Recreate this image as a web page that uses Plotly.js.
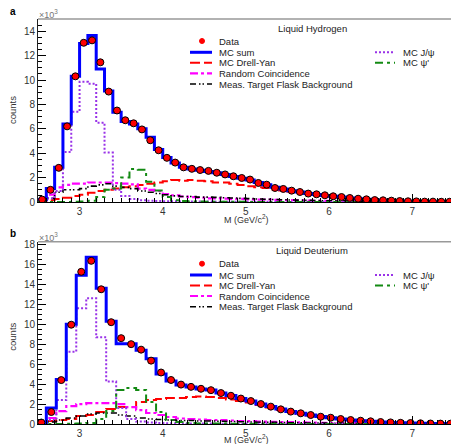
<!DOCTYPE html>
<html><head><meta charset="utf-8">
<script src="https://cdn.plot.ly/plotly-3.0.1.min.js"></script>
<style>html,body{margin:0;padding:0;background:#fff;overflow:hidden}#chart{width:451px;height:444px}</style>
</head><body><div id="chart"></div>
<script>
// ---------- Panel a : Liquid Hydrogen (counts in units of 10^3) ----------
const massA = [2.55,2.65,2.75,2.85,2.95,3.05,3.15,3.25,3.35,3.45,3.55,3.65,3.75,3.85,3.95,4.05,4.15,4.25,4.35,4.45,
  4.55,4.65,4.75,4.85,4.95,5.05,5.15,5.25,5.35,5.45,5.55,5.65,5.75,5.85,5.95,6.05,6.15,6.25,6.35,6.45,
  6.55,6.65,6.75,6.85,6.95,7.05,7.15,7.25,7.35,7.45];
const dataA = [0.2,1.0,2.8,6.2,10.3,13.05,13.25,11.45,9.05,7.5,6.7,6.45,5.95,5.06,4.24,3.62,3.23,2.84,2.72,2.62,
  2.55,2.4,2.26,2.11,1.97,1.84,1.56,1.42,1.15,1.07,0.93,0.82,0.69,0.63,0.55,0.47,0.41,0.33,0.27,0.22,
  0.16,0.14,0.11,0.08,0.06,0.05,0.03,0.03,0.02,0.02];
const mcSumA = [0.2,1.1,2.85,6.4,10.3,13.0,13.65,10.9,9.1,7.35,6.6,6.4,6.0,5.3,4.3,3.65,3.2,2.85,2.7,2.6,
  2.5,2.4,2.25,2.1,1.95,1.8,1.6,1.42,1.2,1.07,0.93,0.82,0.7,0.62,0.54,0.47,0.4,0.33,0.27,0.22,
  0.17,0.14,0.11,0.08,0.06,0.05,0.04,0.03,0.02,0.02];
const dyA = [0.05,0.15,0.25,0.35,0.5,0.6,0.75,0.9,1.0,1.1,1.2,1.3,1.4,1.5,1.6,1.7,1.8,1.75,1.8,1.75,
  1.7,1.6,1.6,1.5,1.4,1.3,1.2,1.15,1.0,0.95,0.85,0.75,0.65,0.58,0.5,0.44,0.38,0.31,0.26,0.2,
  0.15,0.13,0.1,0.08,0.05,0.05,0.03,0.03,0.02,0.02];
const rcA = [0.1,0.6,1.2,1.4,1.5,1.5,1.6,1.6,1.6,1.55,1.5,1.45,1.1,1.0,0.9,0.65,0.55,0.45,0.4,0.35,
  0.3,0.3,0.28,0.25,0.25,0.22,0.2,0.2,0.18,0.15,0.15,0.13,0.12,0.1,0.1,0.08,0.08,0.07,0.06,0.05,
  0.05,0.04,0.04,0.03,0.03,0.02,0.02,0.02,0.01,0.01];
const flaskA = [0.05,0.3,0.8,1.0,1.0,1.1,1.3,1.4,1.5,1.3,1.2,1.1,0.9,0.8,0.7,0.6,0.5,0.45,0.45,0.4,
  0.4,0.38,0.35,0.33,0.3,0.28,0.25,0.22,0.2,0.18,0.16,0.15,0.13,0.12,0.1,0.1,0.09,0.08,0.07,0.06,
  0.05,0.05,0.04,0.04,0.03,0.03,0.02,0.02,0.02,0.01];
const jpsiA = [0.05,0.3,0.9,4.1,7.4,9.85,9.7,6.5,4.05,1.0,0.5,0.25,0.15,0.1,0.08,0.07,0.06,0.05,0.05,0.04,
  0.04,0.03,0.03,0.03,0.02,0.02,0.02,0.02,0.01,0.01,0.01,0.01,0.01,0.01,0.01,0.01,0.01,0.01,0.01,0.01,
  0.01,0.01,0.01,0.01,0.01,0.01,0.01,0.01,0.01,0.01];
const psipA = [0,0,0,0,0.02,0.05,0.1,0.4,1.0,1.1,2.0,2.7,2.65,1.65,0.95,0.4,0.15,0.08,0.05,0.04,
  0.03,0.03,0.02,0.02,0.02,0.01,0.01,0.01,0.01,0.01,0.01,0.01,0.01,0.01,0.01,0.01,0.01,0.01,0.01,0.01,
  0.01,0.01,0.01,0.01,0.01,0.01,0.01,0.01,0.01,0.01];

// ---------- Panel b : Liquid Deuterium ----------
const massB = [2.54,2.66,2.78,2.90,3.02,3.14,3.26,3.38,3.50,3.62,3.74,3.86,3.98,4.10,4.22,4.34,4.46,4.58,4.70,4.82,
  4.94,5.06,5.18,5.30,5.42,5.54,5.66,5.78,5.90,6.02,6.14,6.26,6.38,6.50,6.62,6.74,6.86,6.98,7.10,7.22,7.34,7.46];
const dataB = [0.15,1.2,4.4,9.95,15.25,16.35,13.5,10.2,8.6,8.0,7.45,6.35,5.16,4.41,3.95,3.72,3.53,3.39,3.1,2.83,
  2.55,2.3,2.0,1.74,1.47,1.24,1.07,0.9,0.73,0.63,0.5,0.4,0.33,0.27,0.2,0.16,0.12,0.1,0.07,0.05,0.04,0.03];
const mcSumB = [0.1,1.6,4.45,10.0,14.9,16.7,13.6,10.3,8.05,8.05,7.4,6.55,5.0,4.3,3.9,3.7,3.5,3.4,3.1,2.85,
  2.55,2.3,2.0,1.75,1.5,1.25,1.07,0.9,0.74,0.62,0.5,0.41,0.33,0.27,0.21,0.16,0.12,0.1,0.07,0.05,0.04,0.03];
const dyB = [0.05,0.3,0.4,0.5,0.8,0.9,1.2,1.5,1.7,1.7,2.2,2.4,2.5,2.6,2.6,2.7,2.75,2.7,2.6,2.45,
  2.3,2.15,1.9,1.65,1.4,1.2,1.0,0.85,0.7,0.6,0.47,0.38,0.32,0.26,0.2,0.16,0.12,0.1,0.08,0.06,0.04,0.03];
const rcB = [0.1,0.6,1.3,1.8,2.0,2.1,2.1,2.1,2.0,1.7,1.4,1.1,0.9,0.7,0.55,0.5,0.45,0.4,0.4,0.35,
  0.3,0.28,0.25,0.22,0.2,0.18,0.16,0.14,0.12,0.1,0.09,0.08,0.07,0.06,0.05,0.04,0.04,0.03,0.03,0.02,0.02,0.01];
const flaskB = [0.05,0.2,0.4,0.6,0.8,1.0,1.1,1.1,0.9,0.8,0.6,0.5,0.45,0.4,0.35,0.35,0.3,0.3,0.28,0.25,
  0.22,0.2,0.18,0.16,0.14,0.12,0.11,0.1,0.09,0.08,0.07,0.06,0.05,0.05,0.04,0.04,0.03,0.03,0.02,0.02,0.02,0.01];
const jpsiB = [0.05,0.4,2.4,7.25,11.6,12.6,8.7,4.25,1.6,0.5,0.25,0.15,0.1,0.08,0.06,0.05,0.04,0.04,0.03,0.03,
  0.02,0.02,0.02,0.02,0.01,0.01,0.01,0.01,0.01,0.01,0.01,0.01,0.01,0.01,0.01,0.01,0.01,0.01,0.01,0.01,0.01,0.01];
const psipB = [0,0,0,0.02,0.05,0.1,0.5,1.3,3.4,3.6,3.4,2.2,1.2,0.4,0.2,0.1,0.06,0.05,0.04,0.03,
  0.02,0.02,0.02,0.01,0.01,0.01,0.01,0.01,0.01,0.01,0.01,0.01,0.01,0.01,0.01,0.01,0.01,0.01,0.01,0.01,0.01,0.01];

const labels = ["Data","MC sum","MC Drell-Yan","Random Coincidence","Meas. Target Flask Background","MC J/\u03c8","MC \u03c8'"];
const targets = ["Liquid Hydrogen","Liquid Deuterium"];
const panelTags = ["a","b"];
const xTitle = "M (GeV/c<sup>2</sup>)";
const yTitle = "counts";

// ---------- styles ----------
const FONT = "Liberation Sans, Arial, Helvetica, sans-serif";
const styles = {
  dy:    {color:"#ff0000", width:2,   dash:"10px,4px"},
  rc:    {color:"#ff00ff", width:2.2, dash:"8px,3px,3px,3px"},
  flask: {color:"#000000", width:1.6, dash:"6px,3px,1.5px,2px,1.5px,3px"},
  jpsi:  {color:"#9932e8", width:2,   dash:"2px,2px"},
  psip:  {color:"#138a13", width:2,   dash:"8px,4px,3px,4px"},
  sum:   {color:"#0000ff", width:3}
};

const W=451, H=444, L=38, R=0, T=19, B=20;
const px2x = px => (px-L)/(W-L-R);
const px2y = py => (H-B-py)/(H-T-B);
const topA = 19, botA = 202, topB = 241.7, botB = 424;

function steps(centers, vals, st, xa, ya){
  const w = centers[1]-centers[0];
  const x = centers.map(c=>c-w/2); x.push(centers[centers.length-1]+w/2);
  const y = vals.slice(); y.push(vals[vals.length-1]);
  return {type:"scatter", mode:"lines", x:x, y:y, xaxis:xa, yaxis:ya,
    line:Object.assign({shape:"hv"}, st), hoverinfo:"skip", showlegend:false};
}
function points(centers, vals, xa, ya){
  return {type:"scatter", mode:"markers", x:centers, y:vals, xaxis:xa, yaxis:ya,
    marker:{symbol:"circle", size:7, color:"#ff0000", line:{color:"#000", width:1}},
    hoverinfo:"skip", showlegend:false};
}
function panelTraces(m, d, s, dy, rc, fl, jp, ps, xa, ya){
  return [steps(m,dy,styles.dy,xa,ya), steps(m,rc,styles.rc,xa,ya), steps(m,fl,styles.flask,xa,ya),
          steps(m,jp,styles.jpsi,xa,ya), steps(m,ps,styles.psip,xa,ya), steps(m,s,styles.sum,xa,ya),
          points(m,d,xa,ya)];
}
const traces = panelTraces(massA,dataA,mcSumA,dyA,rcA,flaskA,jpsiA,psipA,"x","y")
  .concat(panelTraces(massB,dataB,mcSumB,dyB,rcB,flaskB,jpsiB,psipB,"x2","y2"));
// empty traces carrying the overlay axes that draw the inward ticks
traces.push({type:"scatter", mode:"markers", x:[], y:[], xaxis:"x3", yaxis:"y", showlegend:false, hoverinfo:"skip"});
traces.push({type:"scatter", mode:"markers", x:[], y:[], xaxis:"x4", yaxis:"y2", showlegend:false, hoverinfo:"skip"});

const xRange = [2.5, 2.5 + (W-L)/83.15];
function xax(anchor){
  return {range:xRange, domain:[0,1], anchor:anchor, showline:true, linecolor:"#000", linewidth:1,
    ticks:"outside", ticklen:0, dtick:1, tick0:0, showgrid:false, zeroline:false,
    tickfont:{family:FONT, size:10, color:"#333"}};
}
function tickAx(over, anchor){
  return {overlaying:over, anchor:anchor, side:"bottom", range:xRange, domain:[0,1],
    ticks:"inside", ticklen:8, tickcolor:"#000", tickwidth:1, dtick:1, tick0:0, showticklabels:false,
    minor:{dtick:0.1, ticks:"inside", ticklen:4, tickcolor:"#000", tickwidth:1},
    showline:false, showgrid:false, zeroline:false};
}
function yax(anchor, range, dom){
  return {range:range, domain:dom, anchor:anchor, showline:true, linecolor:"#222", linewidth:1,
    ticks:"inside", ticklen:8, tickcolor:"#000", tickwidth:1, dtick:2, tick0:0,
    minor:{dtick:0.5, ticks:"inside", ticklen:4, tickcolor:"#000", tickwidth:1},
    showgrid:false, zeroline:false, tickfont:{family:FONT, size:10, color:"#333"}};
}

const shapes = [], annotations = [];
function ann(text, px, py, opts){
  annotations.push(Object.assign({text:text, x:px2x(px), y:px2y(py), xref:"paper", yref:"paper",
    showarrow:false, xanchor:"left", yanchor:"middle",
    font:{family:FONT, size:9.5, color:"#222"}}, opts||{}));
}
function lineSym(x0, x1, py, st){
  shapes.push({type:"line", xref:"paper", yref:"paper", x0:px2x(x0), x1:px2x(x1), y0:px2y(py), y1:px2y(py),
    line:{color:st.color, width:st.width, dash:st.dash||"solid"}});
}

[[topA,botA,0],[topB,botB,1]].forEach(([top,bot,i])=>{
  const off = top - topA;
  shapes.push({type:"line", xref:"paper", yref:"paper", x0:0, x1:1, y0:px2y(top), y1:px2y(top),
    line:{color:"#999", width:1.5}});
  ann("<b>"+panelTags[i]+"</b>", 8, 11+off, {font:{family:FONT, size:10, color:"#000"}});
  ann("\u00d710<sup>3</sup>", 37, 14+off, {font:{family:FONT, size:9, color:"#777"}});
  ann(yTitle, 13, 110+off*(338/332), {textangle:-90, xanchor:"center", font:{family:FONT, size:9.5, color:"#333"}});
  ann(xTitle, 246, (i===0?219:438.5), {xanchor:"center", font:{family:FONT, size:9, color:"#333"}});
  ann(targets[i], 312, 28+off, {xanchor:"center"});
  shapes.push({type:"circle", xref:"paper", yref:"paper", fillcolor:"#ff0000", line:{color:"#ff0000", width:1},
    x0:px2x(199.5), x1:px2x(204.5), y0:px2y(43.5+off), y1:px2y(38.5+off)});
  ann(labels[0], 217, 41+off);
  const rows = [[styles.sum,52.3],[styles.dy,62.7],[styles.rc,73.3],[styles.flask,84]];
  rows.forEach((r,k)=>{ lineSym(190,212,r[1]+off,r[0]); ann(labels[k+1],217,r[1]+off); });
  lineSym(375,395,52.3+off,styles.jpsi); ann(labels[5],401,52.3+off);
  lineSym(375,395,62.7+off,styles.psip); ann(labels[6],401,62.7+off);
});

const layout = {
  width:W, height:H, margin:{l:L, r:R, t:T, b:B, pad:0},
  paper_bgcolor:"#fff", plot_bgcolor:"#fff", showlegend:false,
  xaxis:xax("y"), yaxis:yax("x",[0,15],[px2y(botA),1]),
  xaxis2:xax("y2"), yaxis2:yax("x2",[0,(botB-topB)/9.98],[0,px2y(topB)]),
  xaxis3:tickAx("x","y"), xaxis4:tickAx("x2","y2"),
  shapes:shapes, annotations:annotations, font:{family:FONT}
};
Plotly.newPlot("chart", traces, layout, {staticPlot:true, displayModeBar:false});
</script></body></html>
